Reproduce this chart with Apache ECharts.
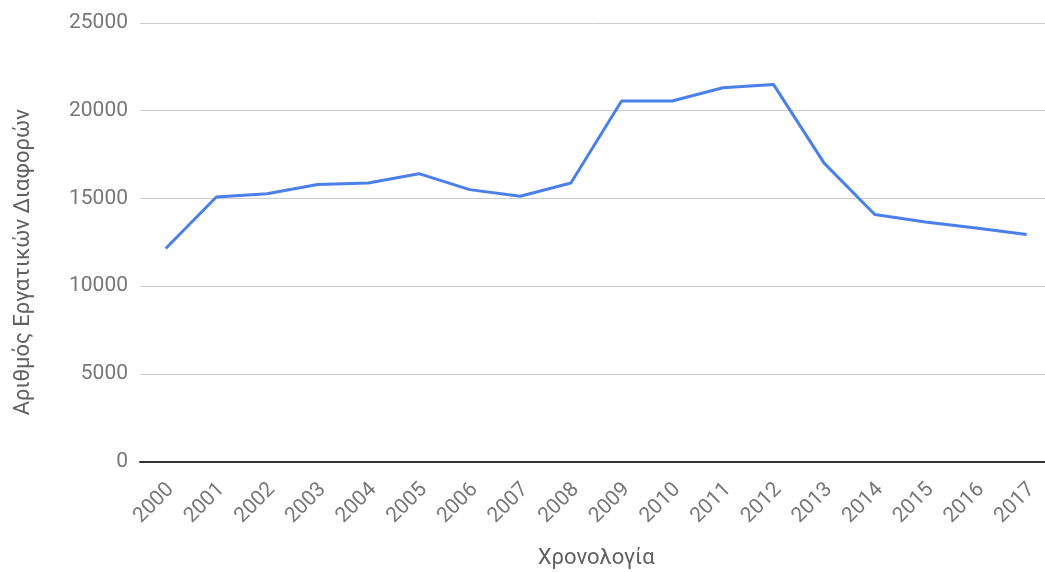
<!DOCTYPE html>
<html>
<head>
<meta charset="utf-8">
<script src="https://cdn.jsdelivr.net/npm/echarts@6/dist/echarts.min.js"></script>
<style>
  html, body { margin: 0; padding: 0; background: #fff; }
  #chart { width: 1045px; height: 572px; }
</style>
</head>
<body>
<div id="chart"></div>
<script>
// Years on the horizontal axis
const years = ['2000', '2001', '2002', '2003', '2004', '2005', '2006', '2007', '2008',
  '2009', '2010', '2011', '2012', '2013', '2014', '2015', '2016', '2017'];

// Number of labour disputes per year
const disputes = [12140, 15080, 15270, 15790, 15880, 16410, 15500, 15120, 15880,
  20550, 20550, 21310, 21500, 17010, 14080, 13660, 13310, 12940];

const yTicks = [0, 5000, 10000, 15000, 20000, 25000];

const xTitle = 'Χρονολογία';
const yTitle = 'Αριθμός Εργατικών Διαφορών';

const yMin = yTicks[0];
const yMax = yTicks[yTicks.length - 1];
const yStep = yTicks[1] - yTicks[0];

const chart = echarts.init(document.getElementById('chart'), null, { renderer: 'canvas' });

// shared vertical extent of every grid
const plotTop = 23;
const plotBottom = 110.5;

chart.setOption({
  animation: false,
  backgroundColor: '#ffffff',
  textStyle: { fontFamily: 'Roboto' },
  grid: [
    // frame: gridlines, value labels and the baseline, full plot width
    { left: 140, right: 0, top: plotTop, bottom: plotBottom, containLabel: false, outerBoundsMode: 'none' },
    // data: first and last year sit half a step inside the frame
    { left: 165.7, right: 18.3, top: plotTop, bottom: plotBottom, containLabel: false, outerBoundsMode: 'none' },
    // year labels, nudged a little to the right of each point
    { left: 170.7, right: 13.3, top: plotTop, bottom: plotBottom, containLabel: false, outerBoundsMode: 'none' }
  ],
  xAxis: [
    {
      gridIndex: 0,
      type: 'value',
      min: 0,
      max: 1,
      axisLine: { show: true, onZero: false, lineStyle: { color: '#333333', width: 2 } },
      axisTick: { show: false },
      axisLabel: { show: false },
      splitLine: { show: false }
    },
    {
      gridIndex: 1,
      type: 'category',
      data: years,
      boundaryGap: false,
      name: xTitle,
      nameLocation: 'middle',
      nameGap: 86,
      nameTextStyle: { color: '#616161', fontSize: 22, fontFamily: 'Roboto' },
      axisLine: { show: false },
      axisTick: { show: false },
      axisLabel: { show: false },
      splitLine: { show: false }
    },
    {
      gridIndex: 2,
      type: 'category',
      data: years,
      boundaryGap: false,
      axisLine: { show: false },
      axisTick: { show: false },
      axisLabel: {
        rotate: 45,
        interval: 0,
        color: '#777777',
        fontSize: 21,
        fontFamily: 'Roboto',
        margin: 25
      },
      splitLine: { show: false }
    }
  ],
  yAxis: [
    {
      gridIndex: 0,
      type: 'value',
      min: yMin,
      max: yMax,
      interval: yStep,
      name: yTitle,
      nameLocation: 'middle',
      nameRotate: 90,
      nameGap: 106,
      nameTextStyle: {
        color: '#616161',
        fontSize: 22,
        fontFamily: 'Roboto',
        padding: [0, 40, 0, 0]
      },
      axisLine: { show: false },
      axisTick: { show: false },
      axisLabel: {
        color: '#777777',
        fontSize: 21,
        fontFamily: 'Roboto',
        margin: 12,
        formatter: (v) => String(v)
      },
      splitLine: { show: true, lineStyle: { color: '#cccccc', width: 1 } }
    },
    {
      gridIndex: 1,
      type: 'value',
      min: yMin,
      max: yMax,
      interval: yStep,
      axisLine: { show: false },
      axisTick: { show: false },
      axisLabel: { show: false },
      splitLine: { show: false }
    },
    {
      gridIndex: 2,
      type: 'value',
      min: yMin,
      max: yMax,
      interval: yStep,
      axisLine: { show: false },
      axisTick: { show: false },
      axisLabel: { show: false },
      splitLine: { show: false }
    }
  ],
  series: [{
    type: 'line',
    xAxisIndex: 1,
    yAxisIndex: 1,
    data: disputes,
    symbol: 'none',
    lineStyle: { color: '#4a80e8', width: 3 },
    itemStyle: { color: '#4a80e8' },
    z: 3
  }]
});
</script>
</body>
</html>
